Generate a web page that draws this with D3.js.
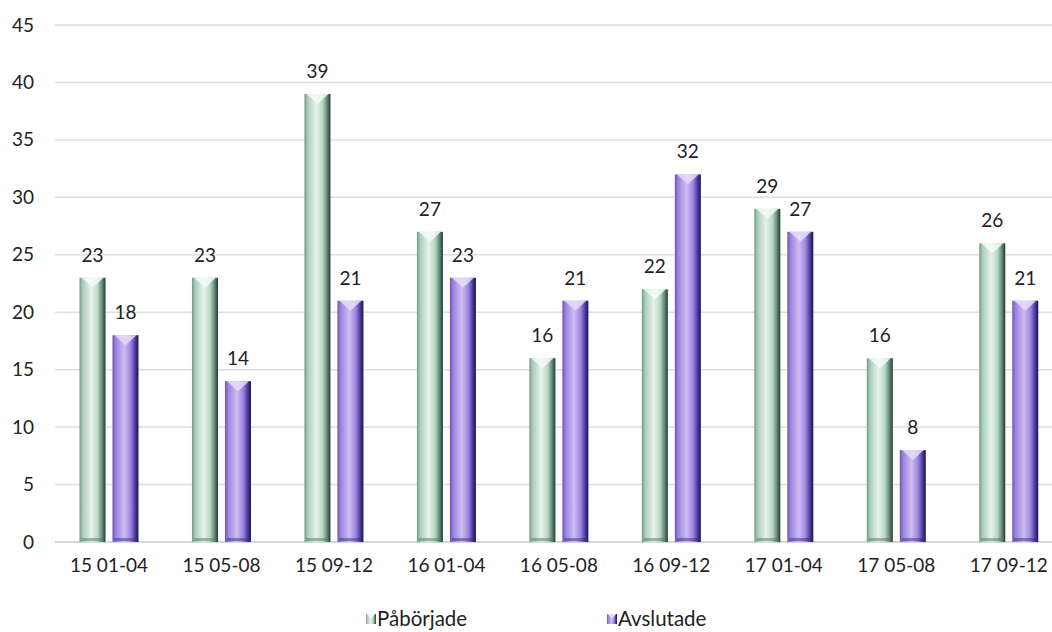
<!DOCTYPE html>
<html>
<head>
<meta charset="utf-8">
<script src="https://cdn.jsdelivr.net/npm/d3@7"></script>
<style>
  html, body { margin: 0; padding: 0; background: #ffffff; }
  svg { display: block; font-family: Lato, "Open Sans", sans-serif; }
</style>
</head>
<body>
<svg id="chart" width="1052" height="632"></svg>
<script>
// Period categories (year + months) and the two series
const categories = ["15 01-04", "15 05-08", "15 09-12", "16 01-04", "16 05-08", "16 09-12", "17 01-04", "17 05-08", "17 09-12"];
const seriesNames = ["Påbörjade", "Avslutade"];
const paborjade = [23, 23, 39, 27, 16, 22, 29, 16, 26];
const avslutade = [18, 14, 21, 23, 21, 32, 27, 8, 21];
const yTicks = [0, 5, 10, 15, 20, 25, 30, 35, 40, 45];

const rows = categories.map((c, i) => ({ cat: c, values: [paborjade[i], avslutade[i]] }));

const svg = d3.select("#chart");
const W = 1052;
const FONT = "Lato, 'Open Sans', sans-serif";
const FS = 19;

const x0 = d3.scaleBand().domain(categories).range([52.75, 1065]).paddingInner(0).paddingOuter(0);
const pairWidth = 59;
const x1 = d3.scaleBand().domain(seriesNames).range([0, pairWidth]).paddingInner(0.212).paddingOuter(0);
const y = d3.scaleLinear().domain([0, 45]).range([542, 25]);

// Gradients giving each bar a bevelled, rounded look
const defs = svg.append("defs");
const palettes = {
  "Påbörjade": [["0%", "#6f9a86"], ["12%", "#a9cbb9"], ["45%", "#e6f3ec"], ["70%", "#b9d6c6"], ["88%", "#5e8472"], ["100%", "#1f3a2e"]],
  "Avslutade": [["0%", "#6a52b8"], ["12%", "#9a83dc"], ["45%", "#cdbdf2"], ["70%", "#9d87e0"], ["88%", "#4a389a"], ["100%", "#1c1450"]]
};
seriesNames.forEach((s, i) => {
  const g = defs.append("linearGradient").attr("id", "grad" + i)
    .attr("x1", "0%").attr("x2", "100%").attr("y1", "0%").attr("y2", "0%");
  palettes[s].forEach(([o, c]) => g.append("stop").attr("offset", o).attr("stop-color", c));
});
const capColors = ["#f2faf5", "#e6dcfb"];
const baseColors = ["#4f7a66", "#3b2c86"];

// Horizontal gridlines
svg.append("g").selectAll("line").data(yTicks).join("line")
  .attr("x1", 55).attr("x2", W)
  .attr("y1", d => y(d)).attr("y2", d => y(d))
  .attr("stroke", d => d === 0 ? "#c6cbcf" : "#d9dee2")
  .attr("stroke-width", 1.5);

// Y axis labels
const yAxis = svg.append("g").attr("transform", "translate(34,0)")
  .call(d3.axisLeft(y).tickValues(yTicks).tickSize(0).tickPadding(0));
yAxis.select(".domain").remove();
yAxis.selectAll("text").attr("font-size", FS).attr("fill", "#222").attr("font-family", FONT);

// X axis labels
const xAxis = svg.append("g").attr("transform", "translate(0,542)")
  .call(d3.axisBottom(x0).tickSize(0).tickPadding(17));
xAxis.select(".domain").remove();
xAxis.selectAll("text").attr("font-size", FS).attr("fill", "#222").attr("font-family", FONT);

// Bars
const offset = (x0.bandwidth() - pairWidth) / 2;
const groups = svg.append("g").selectAll("g").data(rows).join("g")
  .attr("transform", d => `translate(${x0(d.cat) + offset},0)`);

const bars = groups.selectAll("g.bar")
  .data(d => d.values.map((v, i) => ({ series: seriesNames[i], idx: i, v })))
  .join("g").attr("class", "bar");

bars.append("rect")
  .attr("x", d => x1(d.series))
  .attr("y", d => y(d.v))
  .attr("width", x1.bandwidth())
  .attr("height", d => y(0) - y(d.v))
  .attr("fill", d => `url(#grad${d.idx})`);

// Top bevel: a pale V-shaped facet
bars.append("path")
  .attr("d", d => {
    const bx = x1(d.series), w = x1.bandwidth(), top = y(d.v);
    return `M${bx + 2},${top} L${bx + w - 2},${top} L${bx + w / 2},${top + 10} Z`;
  })
  .attr("fill", d => capColors[d.idx])
  .attr("opacity", 0.85);

// Bottom bevel strip
bars.append("rect")
  .attr("x", d => x1(d.series) + 2)
  .attr("y", y(0) - 4)
  .attr("width", x1.bandwidth() - 4)
  .attr("height", 3)
  .attr("fill", d => baseColors[d.idx])
  .attr("opacity", 0.5);

// Value labels
bars.append("text")
  .attr("x", d => x1(d.series) + x1.bandwidth() / 2)
  .attr("y", d => y(d.v) - 16)
  .attr("text-anchor", "middle")
  .attr("font-size", FS)
  .attr("font-family", FONT)
  .attr("fill", "#222")
  .text(d => d.v);

// Legend
const legendX = [366, 607];
const legend = svg.append("g").selectAll("g").data(seriesNames).join("g")
  .attr("transform", (d, i) => `translate(${legendX[i]},0)`);
legend.append("rect")
  .attr("x", 0).attr("y", 614).attr("width", 10).attr("height", 10)
  .attr("fill", (d, i) => `url(#grad${i})`);
legend.append("path")
  .attr("d", "M1,614 L9,614 L5,619 Z")
  .attr("fill", (d, i) => capColors[i]);
legend.append("text")
  .attr("x", 11).attr("y", 626)
  .attr("font-size", 20.5).attr("font-family", FONT).attr("fill", "#222")
  .text(d => d);
</script>
</body>
</html>
